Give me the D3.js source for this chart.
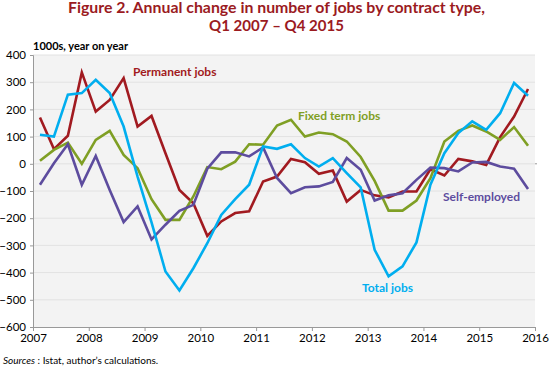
<!DOCTYPE html>
<html><head><meta charset="utf-8">
<script src="https://cdn.jsdelivr.net/npm/d3@7"></script>
<style>body{margin:0;background:#fff;} svg{display:block;font-family:Lato,"Open Sans",sans-serif;}</style>
</head><body><svg id="c" width="550" height="369"></svg>
<script>
const quarters = d3.range(36).map(i => 2007 + Math.floor(i/4) + ((i%4)+0.5)/4);
const years = [2007,2008,2009,2010,2011,2012,2013,2014,2015,2016];
const yTicks = [400,300,200,100,0,-100,-200,-300,-400,-500,-600];
const permanent = [170,54,103,336,192,235,315,137,176,39,-96,-145,-265,-212,-181,-175,-65,-47,18,6,-37,-25,-139,-96,-116,-124,-102,-102,-20,-43,18,9,-4,98,174,275];
const fixedTerm = [11,51,78,0,88,121,33,-16,-130,-206,-206,-120,-12,-20,8,72,70,141,162,100,115,109,82,25,-63,-172,-172,-135,-53,82,121,141,119,88,135,66];
const total = [107,100,254,260,309,260,137,-47,-215,-396,-466,-384,-292,-188,-130,-77,64,55,72,21,-10,21,-34,-87,-316,-414,-377,-289,-77,39,113,156,125,186,297,250];
const selfEmployed = [-77,2,72,-77,29,-96,-214,-157,-278,-224,-173,-151,-18,42,42,27,60,-52,-108,-86,-83,-67,21,-22,-135,-116,-108,-59,-14,-16,-28,5,7,-10,-18,-93];
const seriesNames = ["Permanent jobs","Fixed term jobs","Total jobs","Self-employed"];
const colors = ["#a11a20","#7f9f24","#00aeef","#5d4c9e"];
const seriesData = [permanent, fixedTerm, total, selfEmployed];

const svg = d3.select("#c");
const x = d3.scaleLinear().domain([2007,2016]).range([33,535]);
const y = d3.scaleLinear().domain([-600,400]).range([327,55]);

// title
const tAttrs = {fill:"#9b1b1f","font-weight":"bold","font-size":14.5,"text-anchor":"start"};
const t1 = svg.append("text").attr("x",68).attr("y",13).attr("textLength",417).attr("lengthAdjust","spacingAndGlyphs")
  .text("Figure 2. Annual change in number of jobs by contract type,");
const t2 = svg.append("text").attr("x",209).attr("y",30.5).attr("textLength",135).attr("lengthAdjust","spacingAndGlyphs")
  .text("Q1 2007 \u2013 Q4 2015");
[t1,t2].forEach(t=>Object.entries(tAttrs).forEach(([k,v])=>t.attr(k,v)));

// background
svg.append("rect").attr("x",x(2007)).attr("y",y(400)).attr("width",x(2016)-x(2007)).attr("height",y(-600)-y(400)).attr("fill","#f3f3f3");
// gridlines
svg.append("g").selectAll("line").data(yTicks.filter(d=>d>-600)).join("line")
  .attr("x1",x(2007)).attr("x2",x(2016)).attr("y1",d=>y(d)).attr("y2",d=>y(d))
  .attr("stroke","#e2e2e2").attr("stroke-width",1);

// axes
const yAxis = d3.axisLeft(y).tickValues(yTicks).tickSize(3).tickPadding(4);
const gy = svg.append("g").attr("transform",`translate(${x(2007)},0)`).call(yAxis);
gy.select(".domain").attr("stroke","#999");
gy.selectAll(".tick line").attr("stroke","#999");
gy.selectAll("text").attr("font-size",11.5).attr("fill","#000").attr("font-family","Lato,sans-serif");

const xAxis = d3.axisBottom(x).tickValues(years).tickFormat(d3.format("d")).tickSize(4).tickPadding(3);
const gx = svg.append("g").attr("transform",`translate(0,${y(-600)})`).call(xAxis);
gx.select(".domain").attr("stroke","#999");
gx.selectAll(".tick line").attr("stroke","#999");
gx.selectAll("text").attr("font-size",11.5).attr("fill","#000").attr("font-family","Lato,sans-serif");

svg.append("line").attr("x1",x(2016)).attr("x2",x(2016)+2).attr("y1",y(0)).attr("y2",y(0)).attr("stroke","#999");

svg.append("text").attr("x",33).attr("y",50).attr("font-size",10.5).attr("font-weight","bold")
  .attr("textLength",95).attr("lengthAdjust","spacingAndGlyphs").text("1000s, year on year");

// lines
const line = d3.line().x((d,i)=>x(quarters[i])).y(d=>y(d));
const order = [0,1,3,2];
order.forEach(k => {
  svg.append("path").datum(seriesData[k]).attr("d",line).attr("fill","none")
    .attr("stroke",colors[k]).attr("stroke-width",2.6).attr("stroke-linejoin","miter");
});

// labels
const labelPos = [[133,76],[298,120],[362,292],[443,201]];
seriesNames.forEach((n,k)=>{
  svg.append("text").attr("x",labelPos[k][0]).attr("y",labelPos[k][1]).attr("fill",colors[k])
    .attr("font-size",12).attr("font-weight","bold").text(n);
});

// source
const src = svg.append("text").attr("x",3).attr("y",364).attr("font-size",10).attr("fill","#000");
src.append("tspan").attr("font-style","italic").text("Sources");
src.append("tspan").text(" : Istat, author\u2019s calculations.");
</script></body></html>
